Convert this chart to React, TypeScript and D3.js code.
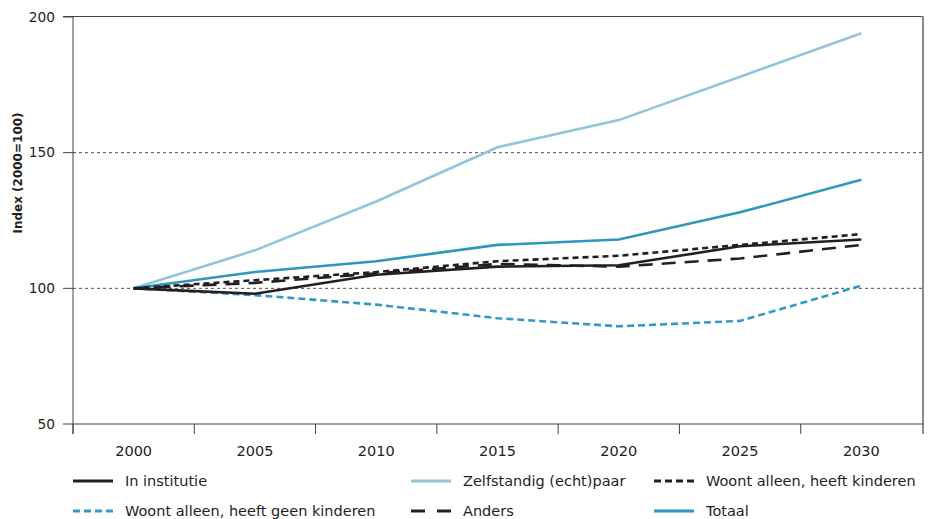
import React from "react";
import * as d3 from "d3";

const years = ["2000", "2005", "2010", "2015", "2020", "2025", "2030"];
const yTicks = [50, 100, 150, 200];
const gridValues = [100, 150];

const inInstitutie = [100, 98, 105, 108, 108.5, 115.5, 118];
const zelfstandigPaar = [100, 114, 132, 152, 162, 178, 194];
const alleenKinderen = [100, 103, 106, 110, 112, 116, 120];
const alleenGeenKinderen = [100, 97.5, 94, 89, 86, 88, 101];
const anders = [100, 102, 105.5, 109, 108, 111, 116];
const totaal = [100, 106, 110, 116, 118, 128, 140];

const series = [
  { name: "Woont alleen, heeft geen kinderen", values: alleenGeenKinderen, color: "#3399c4", dash: "7,4" },
  { name: "Zelfstandig (echt)paar", values: zelfstandigPaar, color: "#94c4dc", dash: "" },
  { name: "Totaal", values: totaal, color: "#2e97bd", dash: "" },
  { name: "Anders", values: anders, color: "#231f20", dash: "14,9" },
  { name: "Woont alleen, heeft kinderen", values: alleenKinderen, color: "#231f20", dash: "6,4" },
  { name: "In institutie", values: inInstitutie, color: "#231f20", dash: "" },
];

const legendOrder = [
  "In institutie",
  "Zelfstandig (echt)paar",
  "Woont alleen, heeft kinderen",
  "Woont alleen, heeft geen kinderen",
  "Anders",
  "Totaal",
];

export default function App() {
  const W = 941, H = 519;
  const left = 73, right = 923, top = 17, bottom = 424;
  const x = d3.scaleBand<string>().domain(years).range([left, right - 1]);
  const y = d3.scaleLinear().domain([50, 200]).range([bottom, top]);
  const font = "'DejaVu Sans', Verdana, sans-serif";

  const line = d3
    .line<number>()
    .x((_, i) => (x(years[i]) as number) + x.bandwidth() / 2)
    .y((v) => y(v));

  const legendCols = [73, 411, 654];
  const legendTextX = [125, 463, 706];
  const legendRows = [481, 511];

  return (
    <svg width={W} height={H} style={{ position: "absolute", left: 0, top: 0, background: "#fff" }}>
      {gridValues.map((g) => (
        <line key={g} x1={left} x2={right} y1={y(g)} y2={y(g)} stroke="#231f20" strokeWidth={0.8} strokeDasharray="3,3" />
      ))}
      <line x1={63} x2={right} y1={top - 0.5} y2={top - 0.5} stroke="#444" strokeWidth={1} />
      <line x1={right} x2={right} y1={top - 1} y2={434} stroke="#8a8a8a" strokeWidth={2} />
      <line x1={left} x2={left} y1={top - 1} y2={434} stroke="#444" strokeWidth={1} />
      {yTicks.map((t) => (
        <g key={t}>
          <line x1={63} x2={left} y1={y(t)} y2={y(t)} stroke="#444" strokeWidth={1} />
          <text x={55} y={y(t)} dy="0.35em" textAnchor="end" fontFamily={font} fontSize={13.8} fill="#231f20">
            {t}
          </text>
        </g>
      ))}
      <text
        transform={`translate(22,173) rotate(-90)`}
        textAnchor="middle"
        fontFamily={font}
        fontSize={12}
        fontWeight="bold"
        fill="#231f20"
      >
        Index (2000=100)
      </text>
      <line x1={left} x2={right} y1={bottom} y2={bottom} stroke="#444" strokeWidth={1} />
      {years.map((yr) => (
        <line key={"t" + yr} x1={x(yr) as number} x2={x(yr) as number} y1={bottom} y2={434} stroke="#444" strokeWidth={1} />
      ))}
      {years.map((yr) => (
        <text
          key={yr}
          x={(x(yr) as number) + x.bandwidth() / 2}
          y={451}
          dy="0.35em"
          textAnchor="middle"
          fontFamily={font}
          fontSize={14.5}
          fill="#231f20"
        >
          {yr}
        </text>
      ))}
      {series.map((s) => (
        <path
          key={s.name}
          d={line(s.values) || ""}
          fill="none"
          stroke={s.color}
          strokeWidth={2.6}
          strokeDasharray={s.dash || undefined}
        />
      ))}
      {legendOrder.map((name, i) => {
        const s = series.find((d) => d.name === name)!;
        const col = i % 3;
        const row = Math.floor(i / 3);
        const ly = legendRows[row];
        return (
          <g key={name}>
            <line
              x1={legendCols[col]}
              x2={legendCols[col] + 40}
              y1={ly}
              y2={ly}
              stroke={s.color}
              strokeWidth={3}
              strokeDasharray={s.dash ? (s.name === "Anders" ? "14,12" : "7,4") : undefined}
            />
            <text x={legendTextX[col]} y={ly} dy="0.35em" fontFamily={font} fontSize={14.5} fill="#231f20">
              {name}
            </text>
          </g>
        );
      })}
    </svg>
  );
}
